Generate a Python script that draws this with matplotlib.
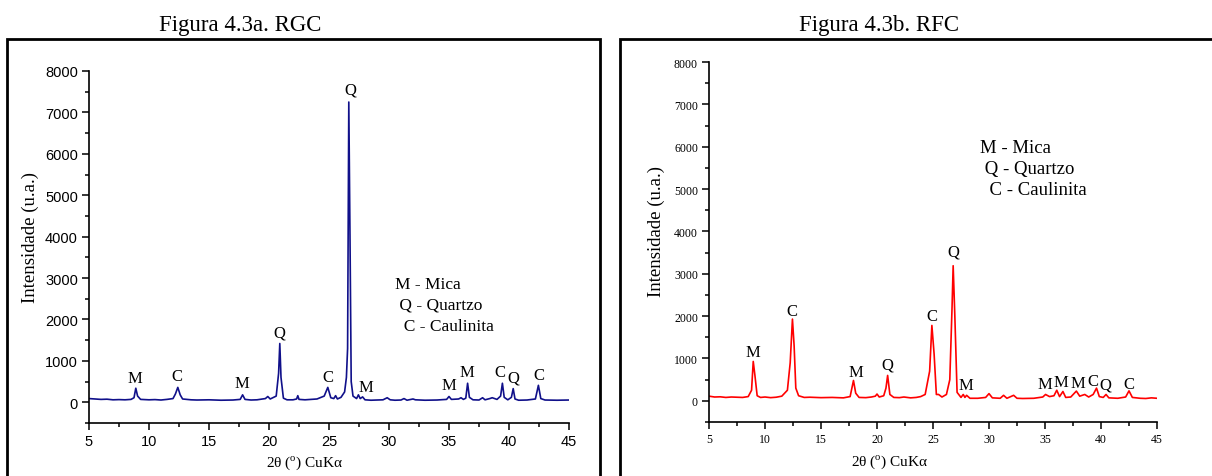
'''DRX das argilas RGC e RFC
'''

import matplotlib
matplotlib.use('Agg')
import matplotlib.pyplot as plt
from matplotlib.patches import Rectangle
from matplotlib.ticker import MultipleLocator

# RGC pattern (2theta, intensity)
rgc_2theta = [5.0, 5.5, 6.0, 6.5, 7.0, 7.5, 8.0, 8.5, 8.75, 8.9,
              9.05, 9.3, 10.0, 10.5, 11.0, 11.5, 12.0, 12.2, 12.4, 12.6,
              12.8, 13.5, 14.0, 15.0, 16.0, 17.0, 17.6, 17.8, 18.0, 18.5,
              19.0, 19.7, 19.9, 20.1, 20.6, 20.8, 20.9, 21.0, 21.2, 21.5,
              22.0, 22.3, 22.4, 22.5, 23.0, 23.5, 24.0, 24.6, 24.9, 25.15,
              25.4, 25.55, 25.7, 26.0, 26.3, 26.45, 26.55, 26.65, 26.75, 26.85,
              27.0, 27.3, 27.45, 27.6, 27.8, 28.0, 28.5, 29.0, 29.5, 29.85,
              30.1, 30.5, 31.0, 31.25, 31.5, 32.0, 32.2, 33.0, 34.0, 34.8,
              35.0, 35.2, 35.8, 36.0, 36.2, 36.4, 36.55, 36.7, 37.0, 37.5,
              37.8, 38.0, 38.4, 38.6, 39.0, 39.3, 39.45, 39.6, 39.9, 40.2,
              40.35, 40.5, 40.8, 41.5, 42.2, 42.45, 42.65, 43.0, 44.0, 45.0]
rgc_int = [90, 80, 70, 75, 60, 65, 60, 70, 110, 340,
           150, 70, 60, 65, 55, 70, 90, 200, 360, 180,
           80, 60, 55, 60, 50, 55, 70, 180, 70, 55,
           60, 90, 140, 80, 150, 700, 1420, 600, 100, 60,
           60, 80, 160, 70, 60, 70, 80, 150, 360, 110,
           90, 160, 80, 120, 250, 600, 1300, 7250, 4000, 500,
           150, 90, 180, 90, 130, 60, 50, 55, 60, 110,
           60, 50, 55, 90, 50, 80, 60, 50, 55, 70,
           140, 70, 80, 110, 70, 100, 460, 120, 60, 55,
           110, 60, 90, 110, 70, 150, 460, 120, 60, 120,
           330, 80, 50, 55, 80, 410, 90, 55, 50, 55]

# RFC pattern (2theta, intensity)
rfc_2theta = [5.0, 5.5, 6.0, 6.5, 7.0, 7.5, 8.0, 8.5, 8.8, 8.95,
              9.1, 9.3, 9.6, 10.0, 10.5, 11.0, 11.5, 12.0, 12.25, 12.45,
              12.6, 12.75, 13.0, 13.5, 14.0, 15.0, 16.0, 17.0, 17.6, 17.9,
              18.1, 18.4, 19.0, 19.5, 19.85, 20.0, 20.2, 20.6, 20.8, 20.95,
              21.15, 21.5, 22.0, 22.4, 23.0, 23.5, 23.9, 24.3, 24.7, 24.9,
              25.1, 25.3, 25.5, 25.8, 26.2, 26.5, 26.7, 26.8, 26.95, 27.15,
              27.5, 27.7, 27.85, 28.0, 28.3, 29.0, 29.7, 30.0, 30.3, 31.0,
              31.3, 31.6, 32.2, 32.5, 33.0, 34.0, 34.8, 35.05, 35.4, 35.8,
              36.05, 36.3, 36.6, 36.85, 37.3, 37.8, 38.1, 38.55, 38.9, 39.3,
              39.6, 39.85, 40.2, 40.45, 40.7, 41.5, 42.2, 42.5, 42.8, 43.5,
              44.0, 44.5, 45.0]
rfc_int = [110, 90, 95, 80, 90, 85, 80, 100, 250, 930,
           600, 120, 80, 90, 75, 85, 110, 250, 900, 1930,
           1300, 300, 120, 80, 85, 75, 80, 70, 100, 480,
           180, 80, 75, 90, 110, 160, 90, 120, 300, 600,
           150, 80, 75, 90, 70, 80, 100, 150, 700, 1780,
           1100, 150, 150, 90, 150, 500, 2200, 3190, 2000, 200,
           80, 150, 80, 130, 60, 60, 80, 170, 70, 60,
           130, 60, 130, 60, 55, 60, 90, 150, 100, 120,
           250, 100, 220, 80, 90, 230, 110, 150, 90, 150,
           300, 100, 80, 150, 70, 60, 90, 235, 80, 60,
           55, 70, 60]

# peak labels
rgc_lab = ['M', 'C', 'M', 'Q', 'C', 'Q', 'M', 'M', 'M', 'C', 'Q', 'C']
rgc_lab_x = [8.85, 12.3, 17.75, 20.9, 24.9, 26.75, 28.1, 35.0, 36.5, 39.25, 40.4, 42.5]
rgc_lab_y = [580, 630, 460, 1690, 600, 7560, 360, 410, 725, 725, 600, 650]

rfc_lab = ['M', 'C', 'M', 'Q', 'C', 'Q', 'M', 'M', 'M', 'M', 'C', 'Q', 'C']
rfc_lab_x = [8.9, 12.4, 18.1, 20.9, 24.9, 26.8, 27.9, 35.0, 36.4, 37.9, 39.3, 40.35, 42.5]
rfc_lab_y = [1160, 2120, 680, 850, 2000, 3520, 380, 400, 450, 425, 470, 380, 400]

legend_lines = ['M - Mica', ' Q - Quartzo', '  C - Caulinita']

serif = 'Liberation Serif'

fig = plt.figure(figsize=(12.12, 4.77), dpi=100)

# outer frames around each figure
fig.add_artist(Rectangle((7/1212, -0.1), 593/1212, 1.1 - 40/477, transform=fig.transFigure,
                         fill=False, lw=2, ec='black'))
fig.add_artist(Rectangle((620/1212, -0.1), 0.6, 1.1 - 40/477, transform=fig.transFigure,
                         fill=False, lw=2, ec='black'))

fig.text(240/1212, 1 - 25/477, 'Figura 4.3a. RGC', ha='center', va='center',
         family=serif, fontsize=16.5)
fig.text(879/1212, 1 - 25/477, 'Figura 4.3b. RFC', ha='center', va='center',
         family=serif, fontsize=16.5)

ax1 = fig.add_axes([89/1212, 1 - 424/477, 480/1212, 352/477])
ax2 = fig.add_axes([709/1212, 1 - 423/477, 448/1212, 360/477])


def style_axes(ax, tick_font, tick_size, xlab_pos, ylab_pos):
    ax.set_xlim(5, 45)
    ax.set_ylim(-500, 8000)
    ax.spines['top'].set_visible(False)
    ax.spines['right'].set_visible(False)
    ax.spines['left'].set_linewidth(1.2)
    ax.spines['bottom'].set_linewidth(1.2)
    ax.xaxis.set_major_locator(MultipleLocator(5))
    ax.xaxis.set_minor_locator(MultipleLocator(2.5))
    ax.yaxis.set_major_locator(MultipleLocator(1000))
    ax.yaxis.set_minor_locator(MultipleLocator(500))
    ax.tick_params(which='major', direction='out', length=5, width=1.1, pad=3)
    ax.tick_params(which='minor', direction='out', length=3, width=1.1)
    for lab in ax.get_xticklabels() + ax.get_yticklabels():
        lab.set_family(tick_font)
        lab.set_fontsize(tick_size)
    ax.set_xlabel('2θ ($^{\\mathregular{o}}$) CuKα', family=serif, fontsize=11)
    ax.set_ylabel('Intensidade (u.a.)', family=serif, fontsize=13.5)
    ax.xaxis.set_label_coords(*xlab_pos)
    ax.yaxis.set_label_coords(*ylab_pos)
    ax.patch.set_alpha(0)


# RGC
ax1.plot(rgc_2theta, rgc_int, color='#10108a', lw=1.2)
for t, x, y in zip(rgc_lab, rgc_lab_x, rgc_lab_y):
    ax1.text(x, y, t, ha='center', va='center', family=serif, fontsize=12)
for i, t in enumerate(legend_lines):
    ax1.text(30.5, 2850 - i * 500, t, ha='left', va='center', family=serif, fontsize=12.5)
style_axes(ax1, 'Liberation Sans', 10.5, (0.45, -0.085), (-0.104, 0.53))

# RFC
ax2.plot(rfc_2theta, rfc_int, color='#ff0000', lw=1.2)
for t, x, y in zip(rfc_lab, rfc_lab_x, rfc_lab_y):
    ax2.text(x, y, t, ha='center', va='center', family=serif, fontsize=12)
for i, t in enumerate(legend_lines):
    ax2.text(29.2, 5970 - i * 495, t, ha='left', va='center', family=serif, fontsize=13.5)
style_axes(ax2, serif, 8.5, (0.404, -0.085), (-0.098, 0.533))

fig.savefig('out.png', dpi=100)
